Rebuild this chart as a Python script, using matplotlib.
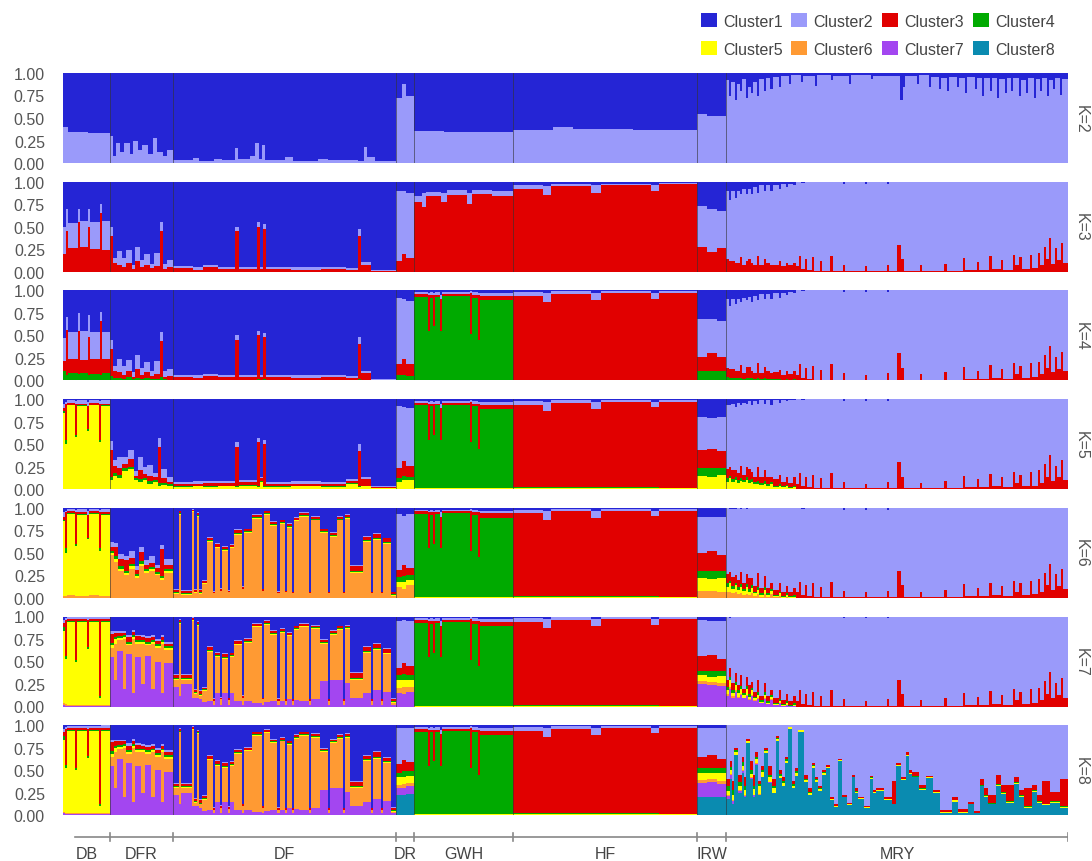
import numpy as np
import matplotlib
matplotlib.use("Agg")
import matplotlib.pyplot as plt
from matplotlib.patches import Patch

plt.rcParams['font.family'] = ['Liberation Sans', 'DejaVu Sans']

cluster_names = ["Cluster1", "Cluster2", "Cluster3", "Cluster4",
                 "Cluster5", "Cluster6", "Cluster7", "Cluster8"]
cluster_colors = ["#2525D5", "#9A9AFA", "#E10000", "#00AA00",
                  "#FFFF00", "#FF9A33", "#A346F0", "#0A8BB0"]
groups = ["DB", "DFR", "DF", "DR", "GWH", "HF", "IRW", "MRY"]

# each row: [number of individuals, Cluster2, Cluster3, ... ]
# missing clusters are 0, Cluster1 fills the rest up to 1
k2 = {
    "DB": [[5, .40], [20, .35], [22, .33]],
    "DFR": [[3, .30], [3, .08], [4, .22], [4, .12], [6, .22], [3, .10], [5, .25], [4, .15],
            [6, .20], [5, .10], [4, .28], [6, .12], [4, .08], [6, .15]],
    "DF": [[20, .03], [6, .06], [15, .02], [8, .05], [13, .03], [3, .17], [12, .04], [5, .08],
           [4, .22], [3, .05], [3, .20], [20, .03], [8, .07], [25, .02], [10, .05], [30, .03],
           [6, .02], [3, .18], [8, .07], [21, .02]],
    "DR": [[6, .72], [4, .88], [8, .75]],
    "GWH": [[30, .36], [10, .34], [59, .35]],
    "HF": [[40, .37], [20, .40], [60, .38], [64, .37]],
    "IRW": [[10, .55], [19, .52]],
    "MRY": [[3, .92], [2, .75], [4, .90], [2, .70], [3, .88], [2, .80], [4, .93], [2, .72],
            [3, .85], [2, .78], [4, .90], [2, .75], [5, .93], [2, .80], [4, .95], [3, .82],
            [6, .96], [2, .85], [8, .97], [2, .88], [10, .98], [2, .90], [12, .97], [2, .86],
            [14, .98], [2, .92], [16, .97], [2, .88], [20, .98], [2, .93], [27, .97], [3, .70],
            [2, .85], [12, .97], [2, .88], [10, .98], [2, .85], [8, .96], [2, .82], [6, .95],
            [2, .80], [8, .96], [2, .85], [6, .94], [2, .78], [8, .96], [2, .82], [5, .95],
            [2, .75], [6, .94], [2, .80], [5, .95], [2, .72], [6, .93], [2, .78], [4, .95],
            [2, .80], [6, .94], [2, .75], [5, .92], [2, .78], [6, .95], [2, .72], [4, .93],
            [2, .80], [5, .94], [2, .74], [4, .92], [2, .82], [5, .95], [2, .76], [6, .93]],
}

# MRY after the first 70 individuals looks the same for K=3..7
mry_tail = [[3, .94, .06], [2, .82, .18], [4, .96, .03], [2, .86, .14], [5, .98, .02],
            [2, .84, .16], [6, .99, .01], [2, .88, .12], [8, .99, .01], [3, .82, .18],
            [10, .99, .01], [2, .90, .08], [20, .99, .01], [2, .92, .06], [20, .99, .01],
            [2, .90, .08], [8, .99, .01], [4, .70, .30], [3, .86, .14], [16, .99, .01],
            [2, .93, .07], [22, .99, .01], [3, .91, .09], [16, .99, .01], [2, .85, .15],
            [12, .98, .02], [2, .89, .11], [10, .98, .02], [3, .83, .17], [9, .97, .03],
            [2, .87, .13], [10, .98, .02], [2, .81, .19], [4, .93, .07], [3, .84, .16],
            [8, .97, .03], [2, .81, .19], [6, .96, .04], [2, .79, .21], [4, .93, .07],
            [2, .72, .28], [3, .86, .14], [2, .62, .38], [4, .91, .09], [2, .74, .26],
            [4, .87, .13], [2, .68, .32], [5, .90, .10]]

k3 = {
    "DB": [[3, .30, .20], [2, .25, .45], [10, .28, .26], [2, .15, .55], [8, .29, .27],
           [2, .20, .50], [10, .30, .25], [2, .10, .65], [8, .32, .24]],
    "DFR": [[3, .10, .40], [4, .05, .10], [5, .15, .08], [4, .10, .05], [6, .14, .10], [3, .05, .03],
            [5, .15, .12], [4, .08, .05], [6, .12, .08], [4, .05, .04], [6, .15, .06], [3, .10, .45],
            [4, .06, .03], [6, .08, .05]],
    "DF": [[20, .02, .04], [10, .03, .02], [15, .02, .05], [17, .02, .03], [4, .05, .45],
           [18, .02, .03], [3, .05, .50], [3, .02, .03], [3, .05, .48], [25, .02, .03],
           [30, .03, .02], [25, .02, .03], [12, .02, .02], [3, .08, .40], [10, .03, .08],
           [25, .01, .01]],
    "DR": [[6, .78, .12], [4, .70, .20], [8, .72, .15]],
    "GWH": [[8, .06, .78], [4, .15, .72], [15, .05, .84], [6, .10, .78], [20, .06, .85],
            [5, .12, .75], [20, .05, .86], [21, .06, .84]],
    "HF": [[30, .04, .92], [8, .10, .85], [40, .03, .95], [10, .08, .88], [50, .02, .96],
           [8, .06, .90], [38, .02, .97]],
    "IRW": [[10, .45, .28], [10, .48, .22], [9, .42, .26]],
    "MRY": [[3, .76, .14], [2, .68, .12], [4, .78, .12], [2, .72, .10], [3, .80, .10],
            [2, .70, .16], [4, .84, .08], [2, .74, .12], [3, .78, .14], [2, .76, .10],
            [4, .86, .08], [2, .70, .18], [5, .88, .08], [2, .76, .14], [4, .86, .10],
            [3, .82, .08], [6, .88, .08], [2, .80, .12], [5, .91, .06], [2, .84, .10],
            [5, .91, .07], [3, .86, .10]] + mry_tail,
}

k4 = {
    "DB": [[3, .25, .12, .10], [2, .15, .50, .06], [10, .30, .16, .08], [2, .20, .48, .07],
           [8, .32, .15, .08], [2, .25, .42, .06], [10, .30, .17, .07], [2, .10, .60, .06],
           [8, .30, .16, .08]],
    "DFR": [[3, .10, .30, .05], [4, .05, .08, .03], [5, .15, .06, .03], [4, .10, .04, .02],
            [6, .12, .07, .04], [3, .05, .02, .02], [5, .15, .10, .03], [4, .08, .04, .02],
            [6, .12, .06, .03], [4, .05, .03, .02], [6, .15, .05, .02], [3, .10, .40, .04],
            [4, .06, .02, .02], [6, .08, .04, .01]],
    "DF": [[20, .02, .03, .01], [10, .03, .02, .01], [15, .02, .04, .01], [17, .02, .03, .01],
           [4, .05, .44, .01], [18, .02, .03, .01], [3, .05, .48, .02], [3, .02, .03, .01],
           [3, .05, .46, .02], [25, .02, .03, .01], [30, .03, .02, .01], [25, .02, .03, .01],
           [12, .02, .02, .01], [3, .08, .38, .02], [10, .03, .07, .01], [25, .01, .01, 0]],
    "DR": [[6, .74, .12, .06], [4, .66, .18, .06], [8, .70, .13, .05]],
    "GWH": [[14, .02, .03, .93], [2, .02, .40, .55], [3, .03, .03, .92], [2, .02, .35, .60],
            [5, .03, .02, .93], [2, .05, .35, .55], [28, .02, .02, .94], [2, .02, .45, .52],
            [6, .03, .03, .92], [2, .02, .50, .45], [33, .03, .05, .89]],
    "HF": [[30, .04, .93, .01], [8, .10, .86, .01], [40, .03, .95, .01], [10, .08, .88, .01],
           [50, .02, .96, .01], [8, .06, .90, .01], [38, .02, .97, 0]],
    "IRW": [[10, .42, .16, .10], [10, .38, .20, .10], [9, .40, .15, .11]],
    "MRY": [[3, .76, .10, .04], [2, .70, .10, .03], [4, .78, .10, .03], [2, .74, .08, .03],
            [3, .80, .08, .03], [2, .70, .14, .03], [4, .84, .06, .02], [2, .74, .12, .03],
            [3, .78, .12, .03], [2, .76, .08, .03], [4, .86, .06, .02], [2, .70, .16, .03],
            [5, .88, .06, .02], [2, .76, .12, .03], [4, .86, .08, .02], [3, .82, .06, .02],
            [6, .88, .07, .02], [2, .80, .10, .02], [5, .91, .05, .01], [2, .84, .09, .02],
            [5, .91, .06, .01], [3, .86, .09, .02]] + mry_tail,
}

gwh_k5 = [[14, .02, .03, .92, .01], [2, .02, .40, .54, .01], [3, .03, .03, .91, .01],
          [2, .02, .35, .59, .01], [5, .03, .02, .92, .01], [2, .05, .35, .54, .01],
          [28, .02, .02, .93, .01], [2, .02, .45, .51, .01], [6, .03, .03, .91, .01],
          [2, .02, .50, .44, .01], [33, .03, .05, .88, .01]]
hf_k5 = [[30, .04, .92, .01, .01], [8, .10, .85, .01, .01], [40, .03, .94, .01, .01],
         [10, .08, .87, .01, .01], [50, .02, .95, .01, .01], [8, .06, .89, .01, .01],
         [38, .02, .96, 0, .01]]

k5 = {
    "DB": [[2, .05, .03, .02, .85], [2, .02, .40, .05, .50], [8, .03, .02, .01, .93],
           [2, .03, .35, .02, .58], [10, .04, .02, .01, .92], [2, .05, .25, .02, .65],
           [10, .03, .02, .01, .93], [2, .03, .40, .03, .52], [9, .04, .02, .01, .92]],
    "DFR": [[3, .10, .30, .03, .10], [4, .06, .08, .03, .15], [5, .12, .08, .04, .12],
            [6, .08, .05, .03, .20], [6, .10, .08, .03, .22], [4, .05, .03, .02, .10],
            [5, .15, .10, .03, .08], [4, .08, .05, .02, .10], [6, .12, .06, .03, .06],
            [5, .05, .03, .02, .08], [3, .10, .40, .03, .04], [6, .10, .05, .02, .05],
            [6, .06, .02, .02, .04]],
    "DF": [[20, .02, .03, .01, .02], [10, .03, .02, .01, .03], [15, .02, .04, .01, .02],
           [17, .02, .03, .01, .03], [4, .05, .44, .01, .02], [18, .02, .03, .01, .04],
           [3, .05, .48, .02, .02], [3, .02, .03, .01, .08], [3, .05, .46, .02, .02],
           [25, .02, .03, .01, .02], [30, .03, .02, .01, .03], [25, .02, .03, .01, .02],
           [12, .02, .02, .01, .06], [3, .08, .38, .02, .02], [10, .03, .07, .01, .03],
           [25, .01, .01, 0, .01]],
    "DR": [[6, .68, .12, .04, .08], [4, .60, .16, .05, .10], [8, .64, .12, .04, .10]],
    "GWH": gwh_k5,
    "HF": hf_k5,
    "IRW": [[10, .36, .20, .09, .15], [10, .34, .22, .09, .14], [9, .38, .18, .08, .16]],
    "MRY": [[3, .72, .10, .04, .08], [2, .68, .10, .03, .12], [4, .74, .10, .03, .08],
            [2, .70, .08, .03, .10], [3, .78, .08, .03, .07], [2, .68, .14, .03, .09],
            [4, .80, .06, .02, .08], [2, .70, .12, .03, .10], [3, .76, .12, .03, .07],
            [2, .74, .08, .03, .08], [4, .84, .06, .02, .06], [2, .70, .16, .03, .06],
            [5, .86, .06, .02, .05], [2, .74, .12, .03, .06], [4, .85, .08, .02, .04],
            [3, .80, .06, .02, .06], [6, .88, .07, .02, .02], [2, .80, .10, .02, .04],
            [5, .91, .05, .01, .02], [2, .84, .09, .02, .03], [5, .92, .05, .01, .01],
            [3, .86, .09, .02, .02]] + mry_tail,
}

k6 = {
    "DB": [[2, .05, .03, .02, .83, .02], [2, .02, .40, .05, .48, .02], [8, .03, .02, .01, .90, .03],
           [2, .03, .35, .02, .56, .02], [10, .04, .02, .01, .90, .02], [2, .05, .25, .02, .63, .02],
           [10, .03, .02, .01, .90, .03], [2, .03, .40, .03, .50, .02], [9, .04, .02, .01, .90, .02]],
    "DFR": [[4, .05, .05, .02, .02, .48], [4, .05, .10, .03, .03, .40], [6, .06, .08, .03, .02, .30],
            [5, .05, .12, .02, .03, .25], [6, .08, .06, .03, .03, .32], [4, .04, .05, .02, .02, .22],
            [5, .06, .10, .03, .03, .35], [5, .05, .05, .02, .02, .28], [6, .08, .05, .02, .02, .30],
            [5, .04, .04, .02, .02, .25], [4, .05, .30, .02, .02, .20], [9, .06, .05, .02, .02, .28]],
    "DF": [[6, .01, .03, .01, .01, .04], [2, .01, .02, .01, .01, .92], [11, .01, .03, .01, .01, .03],
           [2, .01, .02, 0, .01, .95], [3, .01, .02, .01, .01, .05], [2, .01, .02, .01, .01, .90],
           [3, .01, .03, .01, .01, .04], [5, .01, .02, .01, .01, .15], [6, .01, .03, .01, .01, .62],
           [2, .01, .02, 0, 0, .05], [5, .01, .03, .01, .01, .55], [2, .01, .02, 0, 0, .08],
           [6, .01, .03, .01, .01, .52], [2, .01, .02, 0, 0, .06], [4, .01, .02, .01, .01, .55],
           [8, .01, .03, .01, .01, .70], [2, .01, .02, 0, 0, .10], [8, .01, .02, .01, .01, .72],
           [10, .01, .02, .01, .01, .88], [2, 0, .02, 0, 0, .08], [6, .01, .02, .01, .01, .92],
           [7, .01, .02, .01, .01, .80], [3, .01, .02, 0, 0, .05], [5, .01, .02, .01, .01, .82],
           [2, 0, .02, 0, 0, .06], [5, .01, .02, .01, .01, .78], [2, 0, .02, 0, 0, .05],
           [5, .01, .02, .01, .01, .85], [10, .01, .02, .01, .01, .90], [2, 0, .02, 0, 0, .05],
           [9, .01, .02, .01, .01, .86], [8, .01, .02, .01, .01, .72], [2, 0, .02, 0, 0, .05],
           [7, .01, .02, .01, .01, .68], [6, .01, .02, .01, .01, .86], [2, 0, .02, 0, 0, .05],
           [5, .01, .02, .01, .01, .88], [13, .01, .05, .01, .01, .28], [8, .01, .04, .01, .01, .62],
           [2, 0, .02, 0, 0, .05], [8, .01, .05, .01, .01, .64], [2, 0, .02, 0, 0, .05],
           [8, .01, .04, .01, .01, .60], [5, .01, .02, .01, .01, .02]],
    "DR": [[6, .62, .08, .05, .06, .12], [4, .55, .12, .06, .08, .10], [8, .60, .08, .05, .06, .14]],
    "GWH": gwh_k5,
    "HF": hf_k5,
    "IRW": [[10, .40, .20, .08, .14, .08], [10, .38, .22, .09, .13, .08], [9, .42, .18, .08, .15, .07]],
    "MRY": [[3, .74, .10, .04, .06, .06], [2, .70, .10, .03, .10, .06], [4, .76, .10, .03, .05, .05],
            [2, .74, .08, .03, .08, .06], [3, .80, .08, .03, .05, .04], [2, .70, .14, .03, .07, .05],
            [4, .84, .06, .02, .05, .03], [2, .72, .12, .03, .08, .04], [3, .78, .12, .03, .04, .03],
            [2, .78, .08, .03, .06, .05], [4, .87, .06, .02, .03, .02], [2, .72, .16, .03, .05, .04],
            [5, .89, .06, .02, .02, .01], [2, .76, .12, .03, .05, .04], [4, .89, .06, .02, .02, .01],
            [3, .84, .06, .02, .04, .04], [6, .91, .06, .01, .01, .01], [2, .83, .10, .02, .03, .02],
            [5, .93, .05, .01, .01, 0], [2, .87, .08, .02, .02, .01], [5, .93, .05, .01, .01, 0],
            [3, .89, .08, .02, .01, 0]] + mry_tail,
}

db_k7 = [[2, .03, .05, .04, .80, .02, .02], [2, .02, .40, .03, .50, .02, .01],
         [8, .02, .02, .01, .92, .01, .01], [2, .02, .45, .02, .48, .01, .01],
         [10, .02, .02, .01, .92, .01, .01], [2, .03, .30, .02, .62, .01, .01],
         [10, .02, .02, .01, .92, .01, .01], [2, .02, .85, .02, .08, .01, .01],
         [9, .03, .02, .01, .92, .01, .01]]
dfr_k7 = [[4, .03, .10, .03, .03, .10, .55], [3, .02, .05, .02, .05, .40, .30],
          [6, .02, .04, .02, .02, .12, .62], [3, .02, .03, .02, .02, .55, .20],
          [6, .03, .05, .02, .02, .10, .58], [3, .02, .04, .02, .02, .60, .15],
          [6, .02, .04, .02, .02, .15, .55], [4, .02, .03, .02, .02, .45, .25],
          [6, .02, .04, .02, .02, .12, .56], [4, .02, .03, .02, .02, .50, .20],
          [6, .02, .04, .02, .02, .15, .50], [3, .02, .03, .02, .02, .55, .15],
          [9, .02, .03, .02, .02, .15, .48]]
df_k7 = [[6, .01, .03, .01, .01, .08, .22], [2, .01, .02, .01, .01, .80, .12],
         [11, .01, .03, .01, .01, .05, .25], [2, .01, .02, 0, .01, .85, .10],
         [3, .01, .02, .01, .01, .04, .10], [2, .01, .02, .01, .01, .80, .10],
         [3, .01, .03, .01, .01, .04, .08], [5, .01, .02, .01, .01, .12, .05],
         [6, .01, .03, .01, .01, .55, .06], [2, .01, .02, 0, 0, .04, .02],
         [5, .01, .03, .01, .01, .40, .15], [2, .01, .02, 0, 0, .06, .02],
         [6, .01, .03, .01, .01, .38, .15], [2, .01, .02, 0, 0, .05, .02],
         [4, .01, .02, .01, .01, .40, .15], [8, .01, .03, .01, .01, .62, .06],
         [2, .01, .02, 0, 0, .08, .02], [8, .01, .02, .01, .01, .65, .06],
         [10, .01, .02, .01, .01, .84, .04], [2, 0, .02, 0, 0, .06, .02],
         [6, .01, .02, .01, .01, .86, .05], [7, .01, .02, .01, .01, .74, .06],
         [3, .01, .02, 0, 0, .04, .02], [5, .01, .02, .01, .01, .76, .06],
         [2, 0, .02, 0, 0, .04, .02], [5, .01, .02, .01, .01, .70, .08],
         [2, 0, .02, 0, 0, .04, .02], [5, .01, .02, .01, .01, .78, .07],
         [10, .01, .02, .01, .01, .82, .06], [2, 0, .02, 0, 0, .04, .02],
         [9, .01, .02, .01, .01, .78, .08], [8, .01, .02, .01, .01, .42, .28],
         [2, 0, .02, 0, 0, .04, .02], [7, .01, .02, .01, .01, .50, .30],
         [6, .01, .02, .01, .01, .55, .30], [2, 0, .02, 0, 0, .04, .02],
         [5, .01, .02, .01, .01, .60, .26], [13, .01, .05, .01, .01, .20, .10],
         [8, .01, .04, .01, .01, .45, .15], [2, 0, .02, 0, 0, .04, .02],
         [8, .01, .05, .01, .01, .45, .18], [2, 0, .02, 0, 0, .04, .02],
         [8, .01, .04, .01, .01, .42, .16], [5, .01, .02, .01, .01, .02, .02]]

k7 = {
    "DB": db_k7,
    "DFR": dfr_k7,
    "DF": df_k7,
    "DR": [[6, .52, .08, .06, .08, .06, .15], [4, .48, .12, .06, .08, .08, .14],
           [8, .50, .10, .05, .08, .06, .16]],
    "GWH": gwh_k5,
    "HF": hf_k5,
    "IRW": [[10, .40, .16, .05, .07, .03, .25], [10, .38, .18, .06, .06, .03, .24],
            [9, .42, .14, .05, .08, .03, .23]],
    "MRY": [[3, .70, .08, .04, .04, .02, .12], [2, .55, .10, .03, .08, .02, .20],
            [4, .74, .08, .03, .03, .02, .10], [2, .62, .10, .03, .06, .02, .16],
            [3, .76, .06, .03, .04, .01, .10], [2, .64, .12, .03, .06, .01, .13],
            [4, .80, .05, .02, .03, .01, .09], [2, .66, .10, .03, .07, .01, .12],
            [3, .76, .10, .03, .03, .01, .07], [2, .72, .06, .03, .05, .01, .12],
            [4, .84, .05, .02, .02, .01, .06], [2, .70, .14, .03, .04, .01, .08],
            [5, .88, .05, .02, .01, 0, .04], [2, .74, .10, .03, .04, .01, .08],
            [4, .88, .06, .02, .01, 0, .03], [3, .82, .05, .02, .03, .01, .07],
            [6, .90, .06, .01, .01, 0, .02], [2, .82, .10, .02, .02, 0, .04],
            [5, .93, .04, .01, .01, 0, .01], [2, .86, .08, .02, .02, 0, .02],
            [5, .94, .04, .01, 0, 0, .01], [3, .88, .08, .02, .01, 0, .01]] + mry_tail,
}

k8 = {
    "DB": db_k7,
    "DFR": dfr_k7,
    "DF": df_k7,
    "DR": [[6, .40, .10, .05, .08, .04, .08, .22], [4, .36, .12, .06, .08, .05, .08, .22],
           [8, .38, .10, .05, .08, .04, .08, .24]],
    "GWH": gwh_k5,
    "HF": hf_k5,
    "IRW": [[10, .32, .12, .06, .08, .03, .16, .20], [10, .30, .14, .06, .07, .03, .17, .20],
            [9, .34, .11, .05, .09, .03, .15, .20]],
    "MRY": [[4, .60, .08, .05, .05, .01, .03, .18], [2, .40, .06, .04, .04, .01, .05, .40],
            [2, .62, .10, .05, .06, .01, .03, .13], [4, .25, .03, .02, .03, 0, 0, .67],
            [4, .55, .08, .04, .05, .01, .02, .25], [2, .35, .06, .04, .05, .01, .02, .47],
            [2, .58, .10, .04, .06, .01, .01, .20], [4, .15, .02, .01, .02, 0, 0, .80],
            [3, .40, .10, .04, .04, .01, .01, .40], [2, .55, .12, .04, .06, .01, .02, .20],
            [3, .30, .05, .03, .04, .01, .01, .56], [3, .62, .03, .03, .08, .01, .01, .22],
            [3, .45, .05, .02, .06, 0, 0, .42], [4, .25, .03, .01, .02, 0, 0, .69],
            [4, .45, .10, .03, .05, 0, .01, .36], [4, .60, .08, .02, .05, 0, 0, .25],
            [3, .12, .02, .01, .02, 0, 0, .83], [3, .50, .04, .02, .03, 0, 0, .41],
            [3, .58, .04, .02, .03, 0, 0, .33], [3, .35, .03, .02, .02, 0, 0, .58],
            [4, .02, 0, 0, .02, 0, 0, .96], [3, .62, .03, .02, .03, 0, 0, .30],
            [3, .48, .03, .02, .03, 0, 0, .44], [6, .05, 0, 0, .02, 0, 0, .93],
            [4, .55, .05, .01, .02, 0, 0, .37], [4, .70, .04, .01, .02, 0, 0, .23],
            [3, .42, .02, .01, .02, 0, 0, .53], [3, .58, .02, .01, .02, 0, 0, .37],
            [4, .68, .02, .01, .02, 0, 0, .27], [4, .50, .02, .01, .02, 0, 0, .45],
            [4, .44, .02, 0, .01, 0, 0, .53],
            [4, .80, .02, 0, .01, 0, 0, .17], [4, .88, .02, 0, .01, 0, 0, .09],
            [4, .38, .01, 0, .01, 0, 0, .60], [5, .78, .02, 0, 0, 0, 0, .20],
            [5, .86, .02, 0, .01, 0, 0, .11], [3, .55, .02, 0, .01, 0, 0, .42],
            [3, .70, .03, .01, .01, 0, 0, .25], [6, .80, .01, 0, .01, 0, 0, .18],
            [6, .90, .01, 0, .01, 0, 0, .08], [3, .56, .02, .01, .01, 0, 0, .40],
            [3, .72, .02, 0, .01, 0, 0, .25], [8, .70, .02, 0, .01, 0, 0, .27],
            [8, .80, .02, 0, .01, 0, 0, .17], [4, .62, .25, 0, .01, 0, 0, .12],
            [5, .42, .02, 0, .01, 0, 0, .55], [5, .58, .02, 0, .01, 0, 0, .39],
            [3, .30, .03, 0, .01, 0, 0, .66], [3, .50, .03, 0, .01, 0, 0, .46],
            [7, .52, .04, .01, .01, 0, 0, .42], [7, .66, .04, .01, .01, 0, 0, .28],
            [7, .56, .02, 0, .01, 0, 0, .41], [7, .72, .02, 0, .01, 0, 0, .25],
            [12, .94, .02, 0, .01, 0, 0, .03], [6, .80, .03, 0, .02, 0, 0, .15],
            [10, .93, .03, 0, .01, 0, 0, .03], [6, .85, .02, 0, .01, 0, 0, .12],
            [6, .95, .02, 0, .01, 0, 0, .02],
            [4, .60, .06, .01, .01, 0, 0, .32], [4, .70, .08, .01, .01, 0, 0, .20],
            [8, .78, .08, .01, .01, 0, 0, .12], [5, .55, .10, .01, .01, 0, 0, .33],
            [5, .66, .08, .01, .01, 0, 0, .24], [8, .66, .18, .01, .01, 0, 0, .14],
            [5, .58, .05, .01, .01, 0, 0, .35], [5, .72, .06, .01, .01, 0, 0, .20],
            [8, .70, .20, .01, .01, 0, 0, .08], [5, .66, .06, .01, .01, 0, 0, .26],
            [5, .78, .06, .01, .01, 0, 0, .14], [8, .62, .25, .01, .01, 0, 0, .11],
            [10, .74, .10, .01, .01, 0, 0, .14], [8, .60, .30, .01, .01, 0, 0, .08]],
}

panels = [(2, k2), (3, k3), (4, k4), (5, k5), (6, k6), (7, k7), (8, k8)]

W, H = 1092, 862
fig = plt.figure(figsize=(W / 100, H / 100), dpi=100)
left_px, width_px = 63, 1005
text_col = "#555555"

bounds = []
for i, (K, prof) in enumerate(panels):
    top = 74 + i * 108.7
    ax = fig.add_axes([left_px / W, 1 - (top + 90) / H, width_px / W, 90 / H])
    lefts, widths, rows = [], [], []
    x = 0
    gb = []
    for g in groups:
        for r in prof[g]:
            q = list(r[1:]) + [0] * (K - len(r))
            q = np.clip(q, 0, None)
            s = q.sum()
            if s > 1:
                q = q / s
                s = 1.0
            rows.append(np.concatenate([[1 - s], q]))
            lefts.append(x)
            widths.append(r[0])
            x += r[0]
        gb.append(x)
    rows = np.array(rows)
    lefts = np.array(lefts)
    widths = np.array(widths)
    bottom = np.zeros(len(rows))
    # highest cluster at the bottom, Cluster1 on top
    for c in range(K - 1, -1, -1):
        ax.bar(lefts, rows[:, c], width=widths, bottom=bottom, align="edge",
               color=cluster_colors[c], linewidth=0, antialiased=False)
        bottom += rows[:, c]
    for b in gb[:-1]:
        ax.axvline(b, color="#333333", lw=0.6, alpha=0.7)
    ax.set_xlim(0, x)
    ax.set_ylim(0, 1)
    ax.set_yticks([0, .25, .5, .75, 1])
    ax.set_yticklabels(["0.00", "0.25", "0.50", "0.75", "1.00"])
    ax.tick_params(axis="y", length=0, pad=13, labelsize=11.5, labelcolor=text_col)
    ax.set_xticks([])
    for sp in ax.spines.values():
        sp.set_visible(False)
    ax.text(1.006, 0.5, "K=%d" % K, transform=ax.transAxes, rotation=-90,
            ha="left", va="center", fontsize=11.5, color=text_col)
    bounds = gb
    total = x

# population axis at the bottom
axg = fig.add_axes([left_px / W, 0, width_px / W, 34 / H])
axg.set_xlim(0, total)
axg.set_ylim(34, 0)
axg.axis("off")
axg.plot([12, total], [10, 10], color="#888888", lw=1.2)
for b in bounds:
    axg.plot([b, b], [6, 14], color="#888888", lw=1.2)
starts = [0] + bounds[:-1]
for g, s, e in zip(groups, starts, bounds):
    axg.text((s + e) / 2, 27, g, ha="center", va="center", fontsize=11.5, color="#444444")

# legend, 2 rows x 4 columns
order = [0, 4, 1, 5, 2, 6, 3, 7]
handles = [Patch(facecolor=cluster_colors[j], edgecolor="none") for j in order]
labels = [cluster_names[j] for j in order]
fig.legend(handles, labels, ncol=4, loc="upper right", bbox_to_anchor=(1055 / W, 1 - 14 / H),
           frameon=False, fontsize=11.5, handlelength=1.0, handleheight=1.0,
           handletextpad=0.4, columnspacing=0.55, labelspacing=0.78, borderpad=0,
           borderaxespad=0, labelcolor="#444444")

fig.savefig("out.png", dpi=100)
